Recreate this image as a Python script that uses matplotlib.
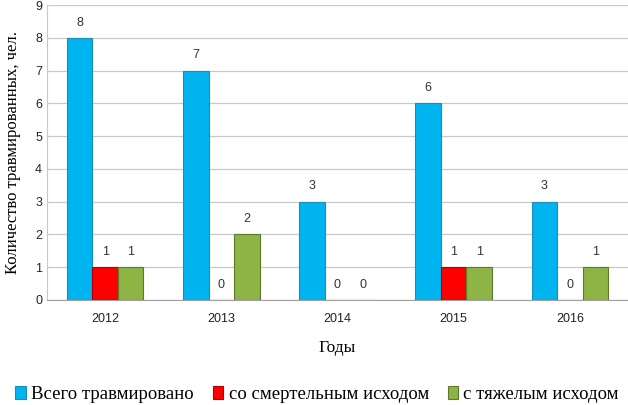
import matplotlib.pyplot as plt
import numpy as np

# Data
years = ["2012", "2013", "2014", "2015", "2016"]
total = [8, 7, 3, 6, 3]
fatal = [1, 0, 0, 1, 0]
severe = [1, 2, 0, 1, 1]
series_names = ["Всего травмировано", "со смертельным исходом", "с тяжелым исходом"]

colors = ["#00B4F0", "#FF0000", "#8DB444"]
edges = ["#1C8DB8", "#B00000", "#5C7A2A"]

fig = plt.figure(figsize=(6.28, 4.05), dpi=100)
ax = fig.add_axes([47 / 628, 1 - 300 / 405, 581 / 628, 295 / 405])

x = np.arange(len(years))
w = 0.22
for i, vals in enumerate([total, fatal, severe]):
    pos = x + (i - 1) * w
    ax.bar(pos, vals, width=w, color=colors[i], edgecolor=edges[i],
           linewidth=0.8, label=series_names[i], zorder=3)
    for p, v in zip(pos, vals):
        ax.text(p, v + 0.28, str(v), ha="center", va="bottom",
                fontsize=9, color="#333333", family="Liberation Sans")

ax.set_xlim(-0.5, len(years) - 0.5)
ax.set_ylim(0, 9)
ax.set_yticks(range(0, 10))
ax.set_xticks(x)
ax.set_xticklabels(years)
ax.tick_params(axis="both", length=0, labelsize=9, colors="#222222")
ax.tick_params(axis="x", pad=9)
for lab in ax.get_xticklabels() + ax.get_yticklabels():
    lab.set_family("Liberation Sans")

ax.grid(axis="y", color="#C8C8C8", linewidth=0.9, zorder=0)
for s in ["top", "right"]:
    ax.spines[s].set_visible(False)
ax.spines["left"].set_color("#C8C8C8")
ax.spines["bottom"].set_color("#A0A0A0")

ax.set_xlabel("Годы", family="Liberation Serif", fontsize=12.5, labelpad=11)
ax.set_ylabel("Количество травмированных, чел.", family="Liberation Serif",
              fontsize=12, labelpad=10)

fig.legend(loc="lower center", bbox_to_anchor=(0.505, -0.036), ncol=3, frameon=False,
           prop={"family": "Liberation Serif", "size": 13.5},
           handlelength=0.55, handleheight=0.7, handletextpad=0.3, columnspacing=1.0)

fig.savefig("out.png", dpi=100)
